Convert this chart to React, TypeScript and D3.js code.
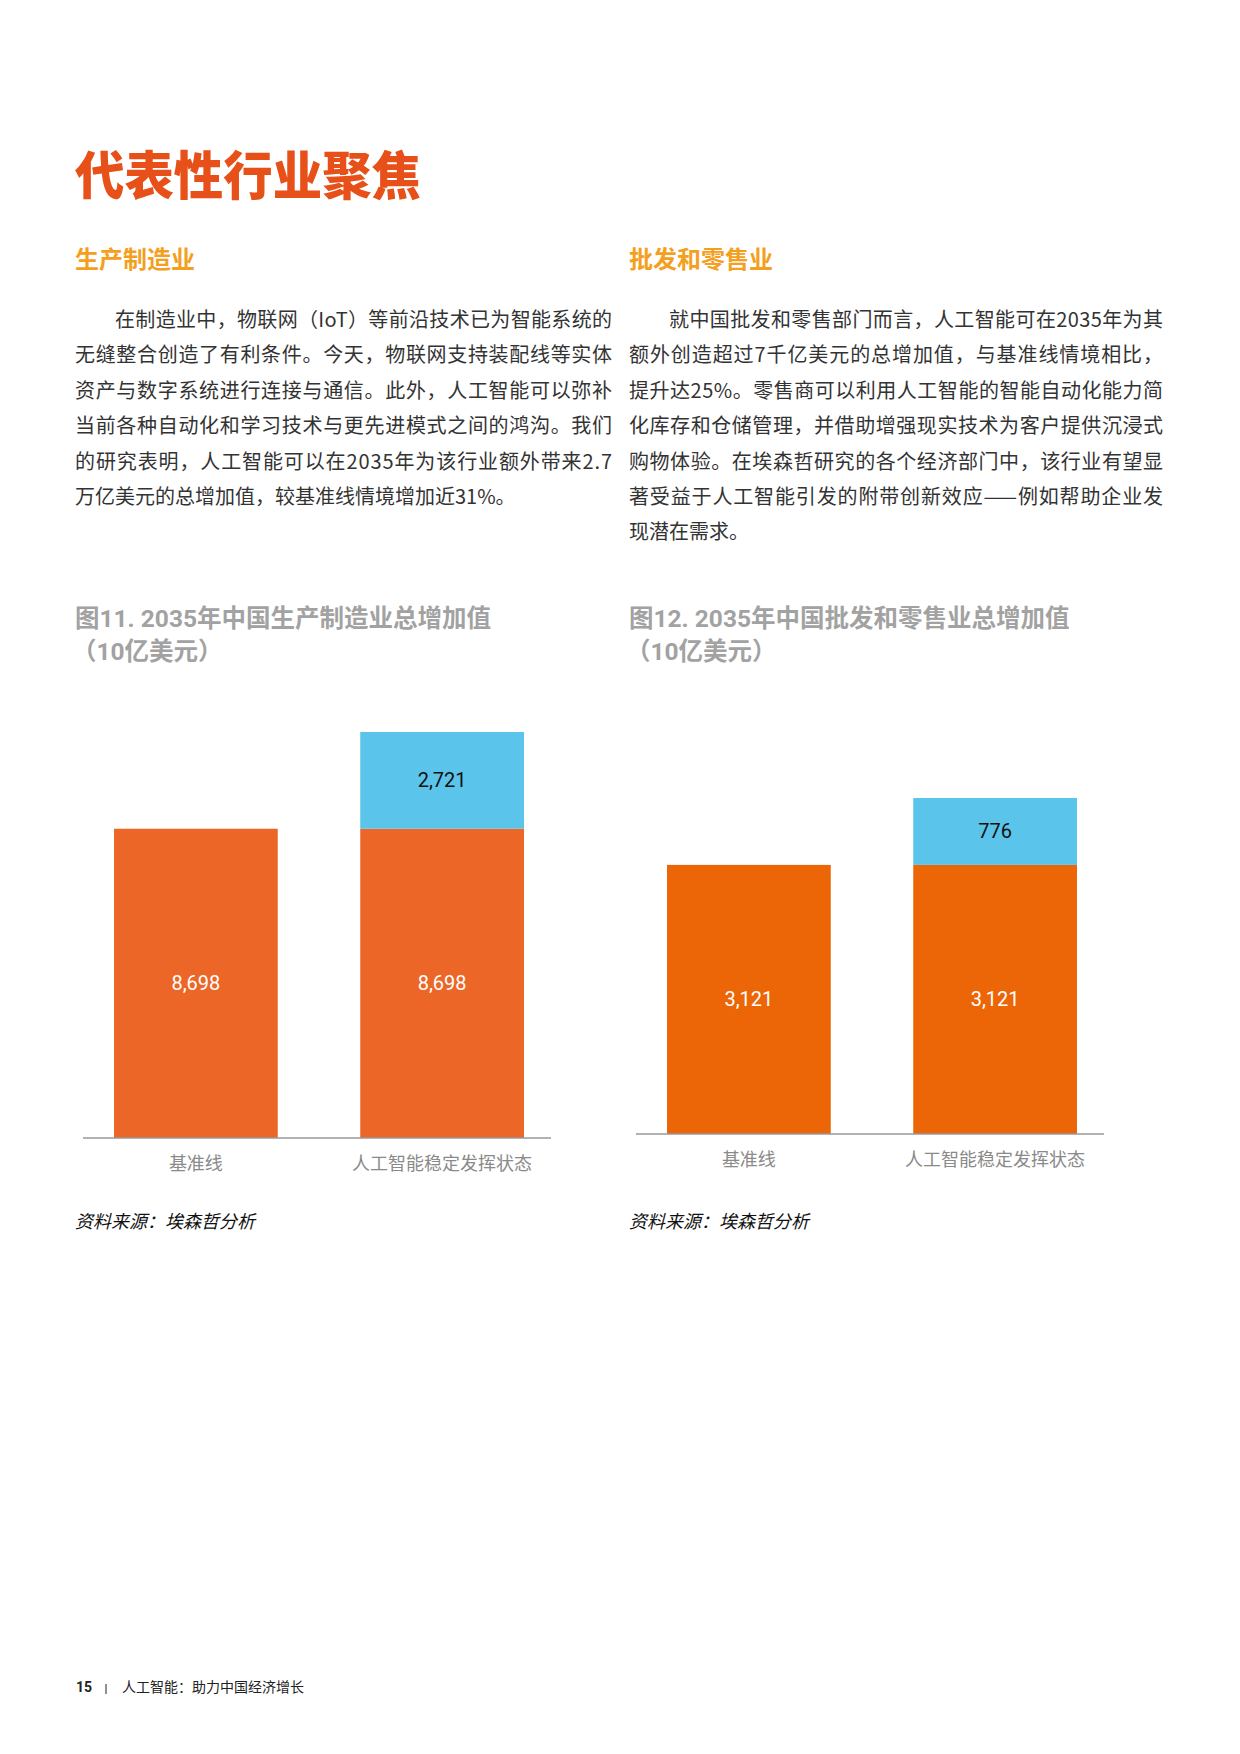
import * as d3 from 'd3';

// ---- data ----
const categories = ['基准线', '人工智能稳定发挥状态'];
const mfgBaseline = [8698, 8698];
const mfgAI = [0, 2721];
const retailBaseline = [3121, 3121];
const retailAI = [0, 776];

const leftParagraph = [
  '在制造业中，物联网（IoT）等前沿技术已为智能系统的',
  '无缝整合创造了有利条件。今天，物联网支持装配线等实体',
  '资产与数字系统进行连接与通信。此外，人工智能可以弥补',
  '当前各种自动化和学习技术与更先进模式之间的鸿沟。我们',
  '的研究表明，人工智能可以在2035年为该行业额外带来2.7',
  '万亿美元的总增加值，较基准线情境增加近31%。',
];
const rightParagraph = [
  '就中国批发和零售部门而言，人工智能可在2035年为其',
  '额外创造超过7千亿美元的总增加值，与基准线情境相比，',
  '提升达25%。零售商可以利用人工智能的智能自动化能力简',
  '化库存和仓储管理，并借助增强现实技术为客户提供沉浸式',
  '购物体验。在埃森哲研究的各个经济部门中，该行业有望显',
  '著受益于人工智能引发的附带创新效应——例如帮助企业发',
  '现潜在需求。',
];

const CJK = '"Noto Sans CJK SC", "Noto Sans", sans-serif';
const MIXED = 'Roboto, "Noto Sans CJK SC", sans-serif';
const BLUE = '#5BC4EA';

interface ChartProps {
  x0: number;
  axisY: number;
  topY: number;
  base: number[];
  extra: number[];
  orange: string;
}

function StackedBars({ x0, axisY, topY, base, extra, orange }: ChartProps) {
  const axisW = 468;
  const x = d3
    .scaleBand<string>()
    .domain(categories)
    .range([x0 + 31, x0 + 441])
    .paddingInner(0.335);
  const totalMax = d3.max(base.map((b, i) => b + extra[i])) as number;
  const y = d3.scaleLinear().domain([0, totalMax]).range([axisY, topY]);
  const fmt = d3.format(',');

  return (
    <g>
      {categories.map((c, i) => {
        const bx = x(c) as number;
        const bw = x.bandwidth();
        const y0 = y(base[i]);
        const y1 = y(base[i] + extra[i]);
        return (
          <g key={c}>
            <rect x={bx} y={y0} width={bw} height={axisY - y0} fill={orange} />
            <text
              x={bx + bw / 2}
              y={(y0 + axisY) / 2 + 7}
              textAnchor="middle"
              fill="#fff"
              fontSize={20}
              fontFamily="Roboto, sans-serif"
            >
              {fmt(base[i])}
            </text>
            {extra[i] > 0 && (
              <>
                <rect x={bx} y={y1} width={bw} height={y0 - y1} fill={BLUE} />
                <text
                  x={bx + bw / 2}
                  y={(y0 + y1) / 2 + 7}
                  textAnchor="middle"
                  fill="#111"
                  fontSize={20}
                  fontFamily="Roboto, sans-serif"
                >
                  {fmt(extra[i])}
                </text>
              </>
            )}
            <text
              x={bx + bw / 2}
              y={axisY + 32}
              textAnchor="middle"
              fill="#8a8a8a"
              fontSize={18}
              fontFamily={CJK}
            >
              {c}
            </text>
          </g>
        );
      })}
      <line x1={x0} x2={x0 + axisW} y1={axisY} y2={axisY} stroke="#999" strokeWidth={1.5} />
    </g>
  );
}

function Paragraph({ lines, x, width }: { lines: string[]; x: number; width: number }) {
  return (
    <g>
      {lines.map((l, i) => {
        const indent = i === 0 ? 40 : 0;
        const full = i < lines.length - 1;
        return (
          <text
            key={i}
            x={x + indent}
            y={327 + i * 35.4}
            fontSize={20}
            fill="#333"
            fontFamily={CJK}
            textLength={full ? width - indent : undefined}
            lengthAdjust="spacing"
          >
            {l}
          </text>
        );
      })}
    </g>
  );
}

export default function App() {
  return (
    <svg
      width={1240}
      height={1754}
      style={{ position: 'absolute', left: 0, top: 0, background: '#fff' }}
    >
      <text x={75} y={195} fontSize={52} fontWeight={900} fill="#E8501A" fontFamily={CJK} textLength={346} lengthAdjust="spacingAndGlyphs">
        代表性行业聚焦
      </text>

      <text x={75} y={268} fontSize={24} fontWeight={700} fill="#F4A01E" fontFamily={CJK}>
        生产制造业
      </text>
      <text x={629} y={268} fontSize={24} fontWeight={700} fill="#F4A01E" fontFamily={CJK}>
        批发和零售业
      </text>

      <Paragraph lines={leftParagraph} x={75} width={537} />
      <Paragraph lines={rightParagraph} x={629} width={534} />

      <g fontFamily={MIXED} fontWeight={700} fontSize={24.5} fill="#a2a2a2">
        <text x={75} y={627}>图11. 2035年中国生产制造业总增加值</text>
        <text x={72} y={660}>（10亿美元）</text>
        <text x={629} y={627}>图12. 2035年中国批发和零售业总增加值</text>
        <text x={626} y={660}>（10亿美元）</text>
      </g>

      <StackedBars x0={83} axisY={1138} topY={732} base={mfgBaseline} extra={mfgAI} orange="#EC6727" />
      <StackedBars x0={636} axisY={1134} topY={798} base={retailBaseline} extra={retailAI} orange="#EC6608" />

      <g fontFamily={CJK} fontSize={18} fill="#111" fontStyle="italic">
        <text x={75} y={1228}>资料来源：埃森哲分析</text>
        <text x={629} y={1228}>资料来源：埃森哲分析</text>
      </g>

      <g fontFamily={CJK} fontSize={14} fill="#222">
        <text x={76} y={1692} fontWeight={700} fontFamily="Roboto, sans-serif">15</text>
        <line x1={106} x2={106} y1={1684} y2={1694} stroke="#222" strokeWidth={1} />
        <text x={122} y={1692}>人工智能：助力中国经济增长</text>
      </g>
    </svg>
  );
}
